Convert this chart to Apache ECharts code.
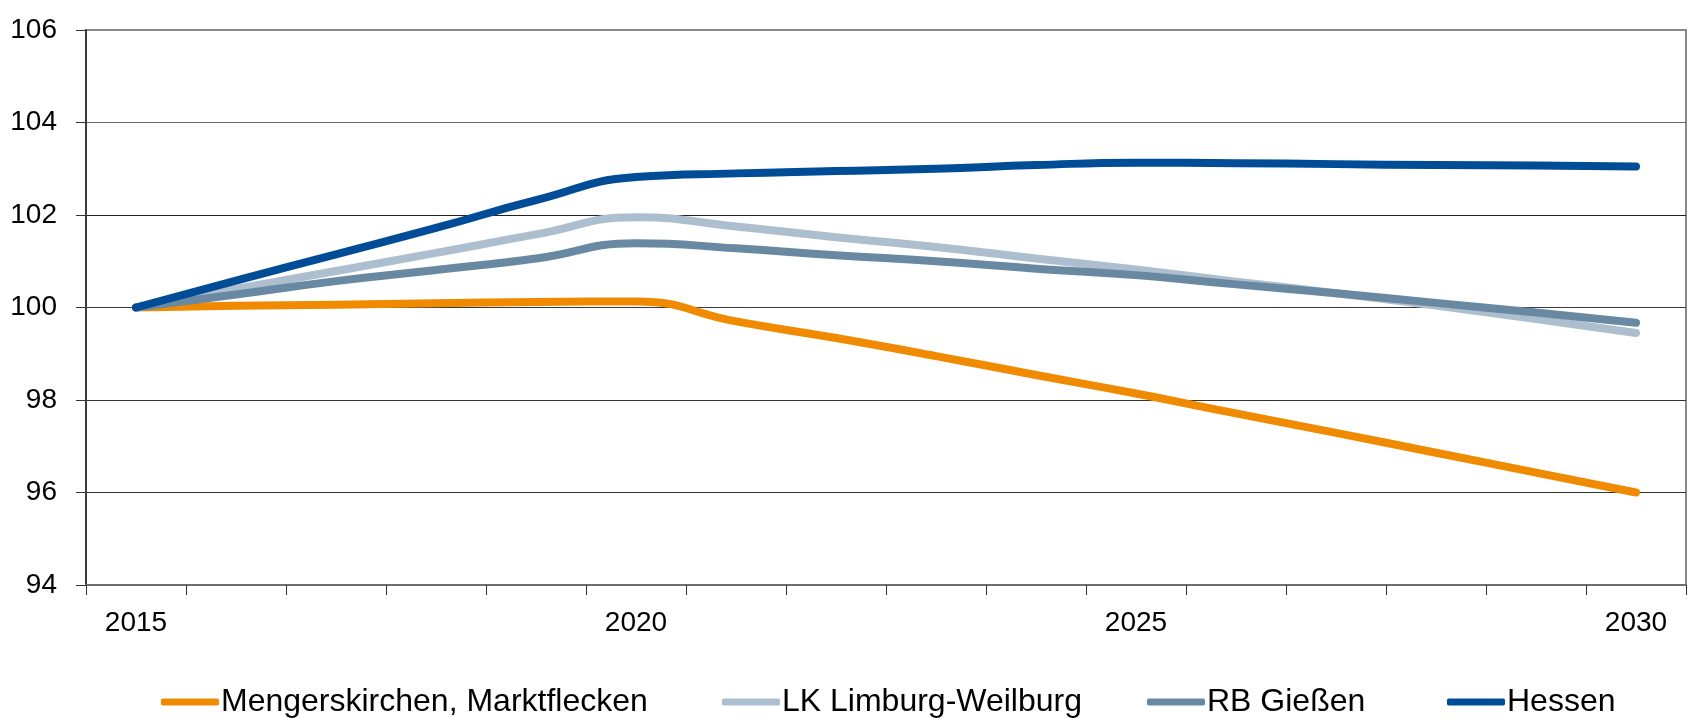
<!DOCTYPE html>
<html>
<head>
<meta charset="utf-8">
<script src="https://cdn.jsdelivr.net/npm/echarts@6/dist/echarts.min.js"></script>
<style>
  html, body { margin: 0; padding: 0; background: #fff; }
  #chart { width: 1690px; height: 718px; }
</style>
</head>
<body>
<div id="chart"></div>
<script>
// Population index (2015 = 100), projection up to 2030
const years = ['2015','2016','2017','2018','2019','2020','2021','2022','2023','2024','2025','2026','2027','2028','2029','2030'];

const seriesNames = ['Mengerskirchen, Marktflecken', 'LK Limburg-Weilburg', 'RB Gießen', 'Hessen'];

const mengerskirchen = [100, 100.04, 100.06, 100.09, 100.12, 100.13, 99.70, 99.34, 98.95, 98.54, 98.14, 97.71, 97.29, 96.86, 96.43, 96.00];
const limburgWeilburg = [100, 100.40, 100.79, 101.18, 101.58, 101.95, 101.75, 101.52, 101.31, 101.06, 100.82, 100.56, 100.31, 100.04, 99.75, 99.45];
const rbGiessen = [100, 100.28, 100.57, 100.81, 101.06, 101.39, 101.28, 101.13, 101.00, 100.84, 100.70, 100.50, 100.31, 100.10, 99.89, 99.67];
const hessen = [100, 100.58, 101.15, 101.72, 102.32, 102.82, 102.90, 102.95, 103.00, 103.08, 103.13, 103.12, 103.10, 103.08, 103.07, 103.05];

const yTicks = { min: 94, max: 106, step: 2 };

const colors = ['#F08A00', '#ADBFCE', '#6989A3', '#004C97'];
const font = "'Liberation Sans', Arial, sans-serif";

const values = [mengerskirchen, limburgWeilburg, rbGiessen, hessen];

// one legend block per series, laid out in a single row under the plot
const legendLeft = [156, 717, 1142, 1442];

const chart = echarts.init(document.getElementById('chart'), null, { renderer: 'canvas' });

chart.setOption({
  animation: false,
  backgroundColor: '#ffffff',
  color: colors,
  grid: {
    left: 86, right: 4, top: 30, bottom: 133,
    show: true, borderColor: '#8a8a8a', borderWidth: 2, backgroundColor: 'transparent'
  },
  legend: seriesNames.map((name, i) => ({
    left: legendLeft[i], top: 681,
    itemWidth: 58, itemHeight: 7,
    icon: 'roundRect',
    selectedMode: false,
    textStyle: { fontFamily: font, fontSize: 32, color: '#000', padding: [0, 0, 0, -3] },
    data: [name]
  })),
  xAxis: {
    type: 'category',
    data: years,
    boundaryGap: true,
    axisLine: { show: true, lineStyle: { color: '#6e6e6e', width: 2 } },
    axisTick: { show: true, interval: 0, length: 10, lineStyle: { color: '#333', width: 1 } },
    axisLabel: { interval: 4, margin: 24, fontFamily: font, fontSize: 28, color: '#000' },
    splitLine: { show: false }
  },
  yAxis: {
    type: 'value',
    min: yTicks.min, max: yTicks.max, interval: yTicks.step,
    axisLine: { show: true, lineStyle: { color: '#3c3c3c', width: 2 } },
    axisTick: { show: true, length: 10, lineStyle: { color: '#333', width: 1 } },
    axisLabel: { margin: 29, fontFamily: font, fontSize: 28, color: '#000' },
    splitLine: { show: true, lineStyle: { color: ['#555', '#333', '#333', '#3a3a3a', '#222', '#6a6a6a', '#8a8a8a'], width: 1 } }
  },
  series: seriesNames.map((name, i) => ({
    name,
    type: 'line',
    data: values[i],
    smooth: 0.5,
    symbol: 'none',
    lineStyle: { width: 8, color: colors[i], cap: 'round', join: 'round' },
    itemStyle: { color: colors[i] }
  }))
});
</script>
</body>
</html>
